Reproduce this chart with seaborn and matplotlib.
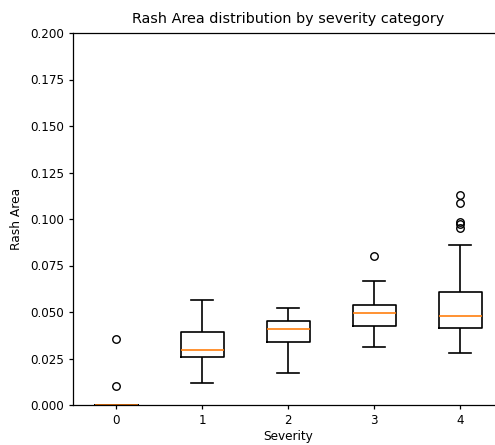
import matplotlib
matplotlib.use("Agg")
import matplotlib.pyplot as plt
from matplotlib.transforms import Bbox
import seaborn as sns
import pandas as pd

# Values (box statistics per severity category)
categories = [0, 1, 2, 3, 4]
whisker_low = [0.0, 0.0117, 0.0170, 0.0310, 0.0278]
q1_vals = [0.0, 0.0260, 0.0337, 0.0423, 0.0412]
median_vals = [0.0, 0.0296, 0.0407, 0.0495, 0.0478]
q3_vals = [0.0, 0.0391, 0.0452, 0.0538, 0.0605]
whisker_high = [0.0, 0.0565, 0.0520, 0.0667, 0.0860]
outliers = [
    [0.0353, 0.0104],
    [],
    [],
    [0.0801],
    [0.1129, 0.1088, 0.0985, 0.0972, 0.0950],
]
y_ticks = [0.0, 0.025, 0.05, 0.075, 0.1, 0.125, 0.15, 0.175, 0.2]

# Build long-form samples whose quartiles/whiskers reproduce the read statistics
rows = []
for c, lo, a, m, b, hi, fl in zip(categories, whisker_low, q1_vals, median_vals,
                                  q3_vals, whisker_high, outliers):
    sample = [lo] + [a] * 20 + [m] * 20 + [b] * 20 + [hi] + list(fl)
    rows += [(c, v) for v in sample]
df = pd.DataFrame(rows, columns=["Severity", "Rash Area"])

plt.rcParams.update({
    "font.family": ["DejaVu Sans"],
    "axes.linewidth": 0.9,
    "xtick.major.width": 0.9,
    "ytick.major.width": 0.9,
    "xtick.major.size": 3.0,
    "ytick.major.size": 3.0,
    "xtick.labelsize": 8.6,
    "ytick.labelsize": 8.6,
})

# Wider canvas; the saved image is cropped to 495x445 px like the reference
fig = plt.figure(figsize=(5.4, 4.45), dpi=100)
ax = fig.add_axes([73 / 540, 40 / 445, 430 / 540, 372 / 445])

sns.boxplot(
    data=df, x="Severity", y="Rash Area", order=categories,
    color="black", fill=False, width=0.5, linewidth=1.2,
    showcaps=True,
    medianprops={"color": "#ff7f0e", "linewidth": 1.2},
    flierprops={"marker": "o", "markerfacecolor": "none",
                "markeredgecolor": "black", "markersize": 5.4,
                "markeredgewidth": 1.0},
    ax=ax,
)

ax.set_ylim(0, 0.2)
ax.set_xlim(-0.5, 4.5)
ax.set_yticks(y_ticks)
ax.set_yticklabels([f"{t:.3f}" for t in y_ticks])
ax.set_xticklabels([str(c) for c in categories])
ax.set_xlabel("Severity", fontsize=8.7, labelpad=2)
ax.set_ylabel("Rash Area", fontsize=8.8, labelpad=5)
ax.set_title("Rash Area distribution by severity category", fontsize=10.4, pad=7)
for s in ["top", "right", "left", "bottom"]:
    ax.spines[s].set_visible(True)
    ax.spines[s].set_color("black")

fig.savefig("out.png", dpi=100, bbox_inches=Bbox([[0, 0], [4.95, 4.45]]))
